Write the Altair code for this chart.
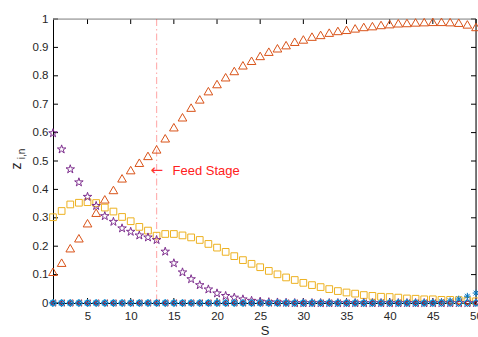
import altair as alt
import pandas as pd

# Stage numbers
S = list(range(1, 51))

# Composition profiles z_{i,n} along the column
z_orange = [0.110, 0.142, 0.193, 0.228, 0.281, 0.318, 0.365, 0.398, 0.439, 0.468,
            0.494, 0.518, 0.541, 0.580, 0.619, 0.654, 0.688, 0.717, 0.746, 0.771,
            0.795, 0.817, 0.837, 0.853, 0.870, 0.885, 0.897, 0.908, 0.920, 0.928,
            0.938, 0.944, 0.952, 0.958, 0.962, 0.967, 0.972, 0.975, 0.979, 0.982,
            0.985, 0.986, 0.988, 0.989, 0.990, 0.990, 0.989, 0.987, 0.981, 0.972]
z_yellow = [0.302, 0.324, 0.347, 0.353, 0.355, 0.352, 0.336, 0.322, 0.303, 0.288,
            0.268, 0.255, 0.237, 0.243, 0.243, 0.238, 0.231, 0.222, 0.208, 0.195,
            0.180, 0.165, 0.151, 0.138, 0.126, 0.113, 0.101, 0.090, 0.081, 0.071,
            0.063, 0.056, 0.049, 0.042, 0.037, 0.033, 0.028, 0.025, 0.022, 0.021,
            0.019, 0.016, 0.015, 0.013, 0.013, 0.011, 0.011, 0.010, 0.008, 0.006]
z_purple = [0.598, 0.541, 0.471, 0.425, 0.374, 0.342, 0.306, 0.286, 0.263, 0.251,
            0.238, 0.231, 0.222, 0.181, 0.140, 0.108, 0.084, 0.063, 0.048, 0.034,
            0.025, 0.019, 0.013, 0.008, 0.005, 0.003, 0.002, 0.001, 0.0, 0.0,
            0.0, 0.0, 0.0, 0.0, 0.0, 0.0, 0.0, 0.0, 0.0, 0.0,
            0.0, 0.0, 0.0, 0.0, 0.0, 0.0, 0.0, 0.0, 0.0, 0.0]
z_blue = [0.0, 0.0, 0.0, 0.0, 0.0, 0.0, 0.0, 0.0, 0.0, 0.0,
          0.0, 0.0, 0.0, 0.0, 0.0, 0.0, 0.0, 0.0, 0.0, 0.0,
          0.0, 0.0, 0.0, 0.0, 0.0, 0.0, 0.0, 0.0, 0.0, 0.0,
          0.0, 0.0, 0.0, 0.0, 0.0, 0.0, 0.0, 0.0, 0.0, 0.0,
          0.0, 0.0, 0.0, 0.0, 0.002, 0.004, 0.008, 0.014, 0.024, 0.035]
z_trace_a = [0.0] * 50
z_trace_b = [0.0] * 50
z_trace_c = [0.0] * 50

feed_stage = [13]
feed_arrow = ["\u2190"]
feed_label = ["Feed Stage"]
feed_label_z = [0.466]

x_ticks = [5, 10, 15, 20, 25, 30, 35, 40, 45, 50]
y_ticks = [0.0, 0.1, 0.2, 0.3, 0.4, 0.5, 0.6, 0.7, 0.8, 0.9, 1.0]

W, H = 423, 284
FONT = "Liberation Sans"
TXT = "#262626"

xs = alt.Scale(domain=[1, 50], nice=False, zero=False)
ys = alt.Scale(domain=[0, 1], nice=False)

# One shared axis definition per direction, used by every layer so they merge cleanly
X_AX = alt.Axis(
    values=x_ticks, tickSize=0, ticks=False, labelPadding=7, labelFlush=False, grid=False,
    domainColor="black", labelFont=FONT, labelFontSize=11.5, labelColor=TXT,
    title="S", titleFont=FONT, titleFontSize=13, titleFontWeight="normal",
    titleColor=TXT, titlePadding=3)
Y_AX = alt.Axis(
    values=y_ticks, format=".1~f", tickSize=0, ticks=False, labelPadding=5,
    labelFlush=False, grid=False, domainColor="black", labelFont=FONT,
    labelFontSize=11.5, labelColor=TXT, title=None)


def X(field="S"):
    return alt.X(f"{field}:Q", scale=xs, axis=X_AX, title="S")


def Y(field="z"):
    return alt.Y(f"{field}:Q", scale=ys, axis=Y_AX, title=None)


STAR = ("M0,-1L0.223,-0.307L0.951,-0.309L0.361,0.117L0.588,0.809L0,0.38"
        "L-0.588,0.809L-0.361,0.117L-0.951,-0.309L-0.223,-0.307Z")
ASTERISK = "M-1,0L1,0M0,-1L0,1M-0.7,-0.7L0.7,0.7M-0.7,0.7L0.7,-0.7"


def profile(vals, shape, color, size, width=1.0):
    df = pd.DataFrame({"S": S, "z": vals})
    return alt.Chart(df).mark_point(
        shape=shape, filled=False, color=color, size=size, strokeWidth=width, opacity=1
    ).encode(x=X(), y=Y())


xt = pd.DataFrame({"S": x_ticks})
yt = pd.DataFrame({"z": y_ticks})
tick_bottom = alt.Chart(xt).mark_rule(color="black", strokeWidth=1).encode(
    x=X(), y=alt.value(H), y2=alt.value(H - 5))
tick_top = alt.Chart(xt).mark_rule(color="black", strokeWidth=1).encode(
    x=X(), y=alt.value(0), y2=alt.value(5))
tick_left = alt.Chart(yt).mark_rule(color="black", strokeWidth=1).encode(
    y=Y(), x=alt.value(0), x2=alt.value(5))
tick_right = alt.Chart(yt).mark_rule(color="black", strokeWidth=1).encode(
    y=Y(), x=alt.value(W), x2=alt.value(W - 5))

frame_top = alt.Chart(pd.DataFrame({"a": [0]})).mark_rule(color="#8c8c8c", strokeWidth=1).encode(
    x=alt.value(0), x2=alt.value(W), y=alt.value(0))
frame_right = alt.Chart(pd.DataFrame({"a": [0]})).mark_rule(color="black", strokeWidth=1).encode(
    x=alt.value(W), y=alt.value(0), y2=alt.value(H))

feed_line = alt.Chart(pd.DataFrame({"S": feed_stage})).mark_rule(
    color="#ff0000", opacity=0.3, strokeWidth=1.2, strokeDash=[7, 3, 1.5, 3]
).encode(x=X())

feed_df = pd.DataFrame({"S": feed_stage, "z": feed_label_z, "a": feed_arrow, "t": feed_label})
feed_arrow_mark = alt.Chart(feed_df).mark_text(
    align="left", baseline="middle", dx=-6, dy=-1, font="DejaVu Sans", fontSize=15,
    color="#ff3030"
).encode(x=X(), y=Y(), text="a:N")
feed_text = alt.Chart(feed_df).mark_text(
    align="left", baseline="middle", dx=16, font=FONT, fontSize=13, color="#ff2020"
).encode(x=X(), y=Y(), text="t:N")

ylab_main = alt.Chart(pd.DataFrame({"t": ["z"]})).mark_text(
    angle=270, font=FONT, fontSize=14, color=TXT, align="center", baseline="middle"
).encode(text="t:N", x=alt.value(-36), y=alt.value(147))
ylab_sub = alt.Chart(pd.DataFrame({"t": ["i,n"]})).mark_text(
    angle=270, font=FONT, fontSize=10, color=TXT, align="center", baseline="middle"
).encode(text="t:N", x=alt.value(-31), y=alt.value(135))

chart = alt.layer(
    tick_bottom, tick_top, tick_left, tick_right, frame_top, frame_right,
    feed_line,
    profile(z_orange, "triangle-up", "#D95319", 75),
    profile(z_yellow, "square", "#EDB120", 45),
    profile(z_purple, STAR, "#7E2F8E", 80),
    profile(z_blue, ASTERISK, "#0072BD", 45),
    profile(z_trace_a, "triangle-left", "#A2142F", 40),
    profile(z_trace_b, "circle", "#4DBEEE", 40),
    profile(z_trace_c, "diamond", "#0072BD", 45),
    feed_arrow_mark, feed_text,
    ylab_main, ylab_sub,
).properties(
    width=W, height=H,
    autosize=alt.AutoSizeParams(type="none"),
    padding={"left": 53, "top": 19, "right": 2, "bottom": 34},
).configure_view(stroke=None).configure(background="white")

chart.save("out.html", embed_options={"renderer": "svg", "actions": False})
